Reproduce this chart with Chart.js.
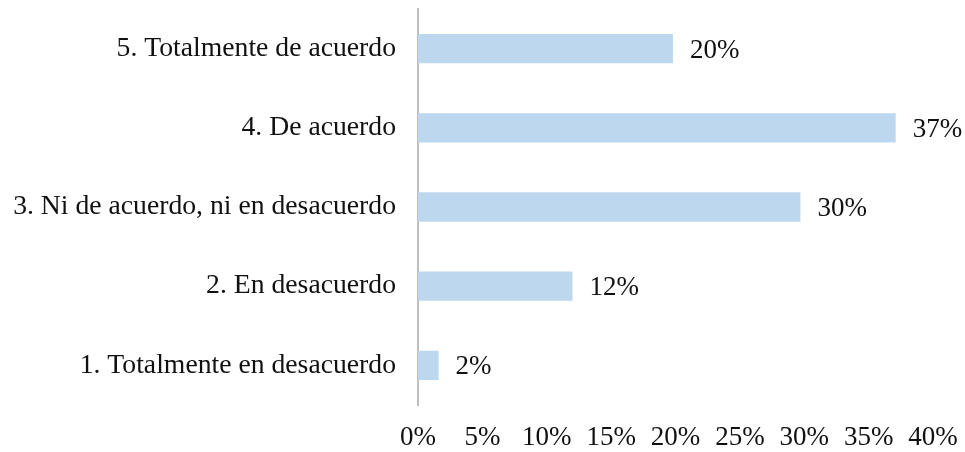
<!DOCTYPE html>
<html>
<head>
<meta charset="utf-8">
<script src="https://cdn.jsdelivr.net/npm/chart.js@4/dist/chart.umd.min.js"></script>
<style>
    html, body { margin: 0; padding: 0; background: #fff; }
    #wrap { width: 965px; height: 452px; position: relative; }
</style>
</head>
<body>
<div id="wrap"><canvas id="chart"></canvas></div>
<script>
    // Categorías (de arriba hacia abajo) y porcentajes
    const categorias = [
        '5. Totalmente de acuerdo',
        '4. De acuerdo',
        '3. Ni de acuerdo, ni en desacuerdo',
        '2. En desacuerdo',
        '1. Totalmente en desacuerdo'
    ];
    const porcentajes = [19.8, 37.1, 29.7, 12.0, 1.6];
    const etiquetas = ['20%', '37%', '30%', '12%', '2%'];

    const FONT = "'Liberation Serif', 'Times New Roman', serif";

    // Plugin sencillo para escribir el valor al final de cada barra
    const valueLabels = {
        id: 'valueLabels',
        afterDatasetsDraw(chart) {
            const ctx = chart.ctx;
            const meta = chart.getDatasetMeta(0);
            ctx.save();
            ctx.font = `27px ${FONT}`;
            ctx.fillStyle = '#111';
            ctx.textAlign = 'left';
            ctx.textBaseline = 'middle';
            meta.data.forEach((bar, i) => {
                ctx.fillText(etiquetas[i], bar.x + 17, bar.y + 2);
            });
            ctx.restore();
        }
    };

    new Chart(document.getElementById('chart'), {
        type: 'bar',
        data: {
            labels: categorias,
            datasets: [{
                data: porcentajes,
                backgroundColor: '#BDD7EE',
                borderWidth: 0,
                barPercentage: 0.37,
                categoryPercentage: 1
            }]
        },
        options: {
            indexAxis: 'y',
            responsive: true,
            maintainAspectRatio: false,
            animation: false,
            layout: { padding: { top: 9, right: 32, bottom: 0, left: 0 } },
            plugins: {
                legend: { display: false },
                tooltip: { enabled: false }
            },
            scales: {
                x: {
                    min: 0,
                    max: 40,
                    grid: { display: false, drawTicks: false },
                    border: { display: false },
                    ticks: {
                        stepSize: 5,
                        padding: 17,
                        color: '#111',
                        font: { family: FONT, size: 27 },
                        callback: v => v + '%'
                    },
                    afterFit: scale => {
                        scale.height = 47;
                        scale.paddingLeft = 0;
                        scale.paddingRight = 0;
                    }
                },
                y: {
                    grid: { display: false, drawTicks: false },
                    border: { display: true, color: '#BFBFBF', width: 2 },
                    ticks: {
                        padding: 22,
                        color: '#111',
                        font: { family: FONT, size: 27.7 }
                    },
                    afterFit: scale => {
                        scale.width = 418;
                        scale.paddingTop = 0;
                        scale.paddingBottom = 0;
                    }
                }
            }
        },
        plugins: [valueLabels]
    });
</script>
</body>
</html>
